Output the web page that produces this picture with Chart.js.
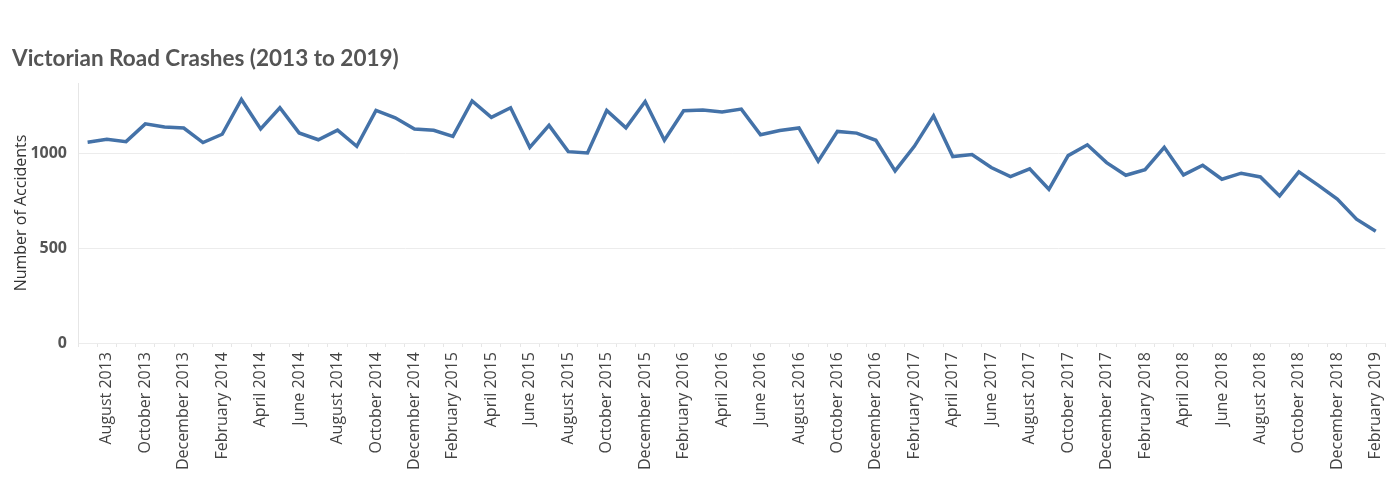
<!DOCTYPE html>
<html lang="en">
<head>
    <meta charset="UTF-8">
    <title>Victorian Road Crashes (2013 to 2019)</title>
    <script src="https://cdn.jsdelivr.net/npm/chart.js"></script>
    <style>
        body { margin: 0; background: #fff; }
        #wrap { width: 1400px; height: 491px; }
    </style>
</head>
<body>
    <div id="wrap"><canvas id="crash-chart"></canvas></div>

    <script>
        // Monthly crash counts, July 2013 - February 2019
        const monthNames = ['January', 'February', 'March', 'April', 'May', 'June',
            'July', 'August', 'September', 'October', 'November', 'December'];
        const startYear = 2013;
        const startMonth = 6; // July
        const crashes = [
            1062, 1077, 1065, 1159, 1142, 1137,
            1060, 1104, 1288, 1132, 1244, 1111, 1075, 1126, 1040, 1230, 1191, 1132,
            1125, 1093, 1280, 1193, 1244, 1035, 1151, 1012, 1005, 1230, 1138, 1277,
            1072, 1228, 1232, 1222, 1237, 1101, 1124, 1137, 962, 1119, 1110, 1072,
            910, 1040, 1201, 986, 997, 928, 880, 921, 813, 991, 1048, 954,
            887, 917, 1035, 889, 940, 866, 898, 878, 778, 905, 835, 761,
            655, 591
        ];
        const yTicks = [0, 500, 1000];

        const labels = crashes.map((v, i) => {
            const m = startMonth + i;
            return monthNames[m % 12] + ' ' + (startYear + Math.floor(m / 12));
        });

        const sans = "'Open Sans', 'DejaVu Sans', sans-serif";

        const ctx = document.getElementById('crash-chart').getContext('2d');
        new Chart(ctx, {
            type: 'line',
            data: {
                labels: labels,
                datasets: [{
                    label: 'Number of Accidents',
                    data: crashes,
                    borderColor: '#4472a8',
                    borderWidth: 3.5,
                    pointRadius: 0,
                    tension: 0,
                    fill: false
                }]
            },
            options: {
                responsive: true,
                maintainAspectRatio: false,
                animation: false,
                layout: { padding: { left: 12, right: 7, top: 0, bottom: 0 } },
                plugins: {
                    legend: { display: false },
                    tooltip: { enabled: false },
                    title: {
                        display: true,
                        text: 'Victorian Road Crashes (2013 to 2019)',
                        align: 'start',
                        color: '#555',
                        font: { family: "'Lato', sans-serif", size: 22.5, weight: 'bold' },
                        padding: { top: 45, bottom: 11 }
                    }
                },
                scales: {
                    x: {
                        offset: true,
                        grid: {
                            offset: true,
                            drawOnChartArea: false,
                            drawTicks: true,
                            tickLength: 4,
                            color: '#e6e6e6'
                        },
                        border: { display: true, color: '#ececec' },
                        ticks: {
                            autoSkip: false,
                            minRotation: 90,
                            maxRotation: 90,
                            padding: 5,
                            color: '#444',
                            font: { family: sans, size: 16 },
                            callback: function (value, index) {
                                return index % 2 === 1 ? this.getLabelForValue(value) : '';
                            }
                        },
                        afterFit: scale => { scale.height = 148; }
                    },
                    y: {
                        min: 0,
                        max: 1375,
                        afterBuildTicks: scale => {
                            scale.ticks = yTicks.map(v => ({ value: v }));
                        },
                        grid: { color: '#ececec', drawTicks: false },
                        border: { display: true, color: '#e6e6e6' },
                        ticks: {
                            padding: 11,
                            color: '#555',
                            font: { family: sans, size: 16, weight: 'bold' },
                            callback: value => String(value)
                        },
                        title: {
                            display: true,
                            text: 'Number of Accidents',
                            color: '#333',
                            font: { family: sans, size: 16 },
                            padding: { top: 0, bottom: 0 }
                        },
                        afterFit: scale => { scale.width = 66; }
                    }
                }
            }
        });
    </script>
</body>
</html>
